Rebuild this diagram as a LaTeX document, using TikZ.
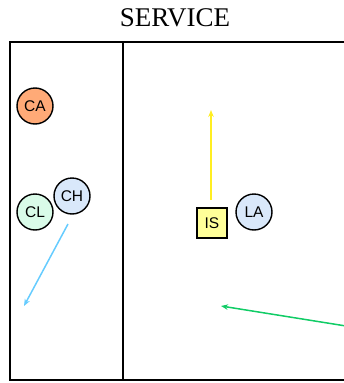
\documentclass[tikz,border=0pt]{standalone}
\usepackage{fontspec}
\setmainfont{Liberation Serif}
\newfontfamily\nodefont{Liberation Sans}
\usetikzlibrary{arrows.meta}
\definecolor{caorange}{HTML}{FFAA77}
\definecolor{clgreen}{HTML}{D9FBE8}
\definecolor{chblue}{HTML}{D9E8FA}
\definecolor{isyellow}{HTML}{FFFF99}
\definecolor{arryellow}{HTML}{FFEE22}
\definecolor{arrblue}{HTML}{66CCFF}
\definecolor{arrgreen}{HTML}{11CC66}
\tikzset{
  actor/.style={circle, draw=black, line width=1.4pt, minimum size=36pt, inner sep=0pt, font=\nodefont\fontsize{15.5pt}{15.5pt}\selectfont},
  sysbox/.style={rectangle, draw=black, line width=1.4pt, minimum size=30pt, inner sep=0pt, fill=isyellow, font=\nodefont\fontsize{15.5pt}{15.5pt}\selectfont},
  frameline/.style={draw=black, line width=2.3pt},
  divline/.style={draw=black, line width=1.4pt},
  flow/.style={line width=1.5pt, -{Stealth[length=7pt,width=5.5pt]}},
}
\begin{document}
\begin{tikzpicture}[x=1pt, y=-1pt]
\useasboundingbox (0,0) rectangle (344,383);
\node[font=\fontsize{27pt}{27pt}\selectfont] (title) at (175,18) {SERVICE};
\draw[frameline] (360,42) -- (10,42) -- (10,380) -- (360,380);
\draw[divline] (123,42) -- (123,380);
\node[actor, fill=caorange] (CA) at (35,106) {CA};
\node[actor, fill=clgreen] (CL) at (35,212) {CL};
\node[actor, fill=chblue] (CH) at (72,196) {CH};
\node[sysbox] (IS) at (212,223) {IS};
\node[actor, fill=chblue] (LA) at (254,212) {LA};
\coordinate (ystart) at (211,200);
\coordinate (yend) at (211,110);
\coordinate (bstart) at (68,224);
\coordinate (bend) at (24,306);
\coordinate (gstart) at (346,326);
\coordinate (gend) at (221,306);
\draw[flow, draw=arryellow, color=arryellow] (ystart) -- (yend);
\draw[flow, draw=arrblue, color=arrblue] (bstart) -- (bend);
\draw[flow, draw=arrgreen, color=arrgreen] (gstart) -- (gend);
\end{tikzpicture}
\end{document}
